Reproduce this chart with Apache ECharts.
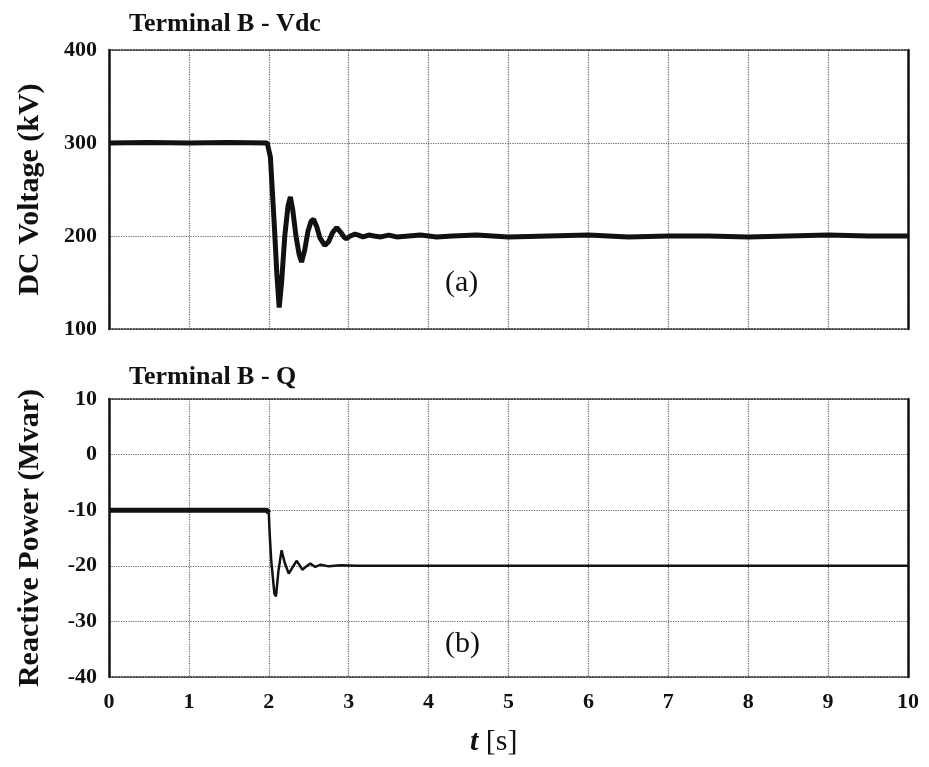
<!DOCTYPE html>
<html><head><meta charset="utf-8">
<script src="https://cdn.jsdelivr.net/npm/echarts@6/dist/echarts.min.js"></script>
<style>html,body{margin:0;padding:0;background:#fff}#c{width:929px;height:767px}</style>
</head><body><div id="c"></div>
<script>
const xTicks = [0,1,2,3,4,5,6,7,8,9,10];
const vdcTicks = [100,200,300,400];
const qTicks = [-40,-30,-20,-10,0,10];
const titleA = 'Terminal B - Vdc';
const titleB = 'Terminal B - Q';
const yNameA = 'DC Voltage (kV)';
const yNameB = 'Reactive Power (Mvar)';

// Terminal B DC voltage [t (s), kV]
const vdcT = [0,0.5,1,1.5,1.98,2.0,2.02,2.04,2.07,2.10,2.13,2.16,2.2,2.24,2.27,2.30,2.34,2.38,2.41,2.45,2.49,2.53,2.56,2.60,2.64,2.70,2.75,2.80,2.85,2.90,2.94,2.97,3.02,3.08,3.12,3.18,3.25,3.32,3.4,3.5,3.6,3.75,3.9,4.1,4.3,4.6,5,5.5,6,6.5,7,7.5,8,8.5,9,9.5,10];
const vdcV = [300,300.5,300,300.5,300,299,285,255,210,160,123,150,200,232,242,228,200,180,172,185,205,216,218,210,198,190,194,204,209,204,199,197,200,202,201,199,201,200,199,201,199,200,201,199,200,201,199,200,201,199,200,200,199,200,201,200,200];

// Terminal B reactive power [t (s), Mvar]
const qT = [0,0.5,1,1.5,1.98,2.0,2.01,2.03,2.05,2.07,2.09,2.12,2.16,2.2,2.25,2.3,2.35,2.42,2.47,2.52,2.58,2.65,2.75,2.9,3.1,3.5,4,5,6,7,8,9,10];
const qV = [-10,-10,-10,-10,-10,-10.5,-14,-19,-22,-25,-25.5,-21,-17.2,-19.5,-21.4,-20.2,-19.1,-20.7,-20.1,-19.6,-20.2,-19.8,-20.1,-19.9,-20,-20,-20,-20,-20,-20,-20,-20,-20];

const vdcData = vdcT.map((t,i)=>[t,vdcV[i]]);
const qPre = [], qPost = [];
qT.forEach((t,i)=>{ if(t<=2.0) qPre.push([t,qV[i]]); if(t>=2.0) qPost.push([t,qV[i]]); });

const FONT = '"Liberation Serif","DejaVu Serif",serif';
const chart = echarts.init(document.getElementById('c'), null, {renderer:'canvas'});

function xAx(gi, showLabels){
  return {type:'value', gridIndex:gi, min:0, max:10, interval:1,
    axisLine:{show:true,onZero:false,lineStyle:{color:'#222',width:1.5,type:'dotted'}},
    axisTick:{show:false},
    axisLabel:{show:showLabels,fontFamily:FONT,fontWeight:'bold',fontSize:22,color:'#111',margin:14},
    splitLine:{show:true,lineStyle:{color:'#666',type:'dotted',width:1.2}}};
}
function xTop(gi){
  return {type:'value', gridIndex:gi, position:'top', min:0, max:10,
    axisLine:{show:true,onZero:false,lineStyle:{color:'#222',width:1.5,type:'dotted'}},
    axisTick:{show:false},axisLabel:{show:false},splitLine:{show:false}};
}
function yAx(gi,min,max,interval,name){
  return {type:'value', gridIndex:gi, min:min, max:max, interval:interval,
    name:name, nameLocation:'middle', nameGap:64,
    nameTextStyle:{fontFamily:FONT,fontWeight:'bold',fontSize:30,color:'#111'},
    axisLine:{show:true,onZero:false,lineStyle:{color:'#111',width:2.5}},
    axisTick:{show:false},
    axisLabel:{fontFamily:FONT,fontWeight:'bold',fontSize:22,color:'#111',margin:12},
    splitLine:{show:true,lineStyle:{color:'#666',type:'dotted',width:1.2}}};
}
function yRight(gi,min,max){
  return {type:'value', gridIndex:gi, position:'right', min:min, max:max,
    axisLine:{show:true,onZero:false,lineStyle:{color:'#111',width:2.5}},
    axisTick:{show:false},axisLabel:{show:false},splitLine:{show:false}};
}

chart.setOption({
  backgroundColor:'#fff',
  animation:false,
  title:[
    {text:titleA,left:124,top:6,textStyle:{fontFamily:FONT,fontWeight:'bold',fontSize:26,color:'#111'}},
    {text:titleB,left:124,top:359,textStyle:{fontFamily:FONT,fontWeight:'bold',fontSize:26,color:'#111'}}
  ],
  grid:[
    {left:109,top:50,width:799,height:279},
    {left:109,top:399,width:799,height:278}
  ],
  xAxis:[xAx(0,false),xAx(1,true),xTop(0),xTop(1)],
  yAxis:[yAx(0,100,400,100,yNameA),yAx(1,-40,10,10,yNameB),yRight(0,100,400),yRight(1,-40,10)],
  graphic:[
    {type:'text',left:445,top:268,style:{text:'(a)',font:'30px '+FONT,fill:'#111'}},
    {type:'text',left:445,top:629,style:{text:'(b)',font:'30px '+FONT,fill:'#111'}},
    {type:'text',left:470,top:727,style:{rich:{i:{fontFamily:FONT,fontStyle:'italic',fontWeight:'bold',fontSize:30,fill:'#111'},n:{fontFamily:FONT,fontSize:30,fill:'#111'}},text:'{i|t}{n| [s]}'}}
  ],
  series:[
    {type:'line',xAxisIndex:0,yAxisIndex:0,data:vdcData,showSymbol:false,lineStyle:{color:'#111',width:5},z:5},
    {type:'line',xAxisIndex:1,yAxisIndex:1,data:qPre,showSymbol:false,lineStyle:{color:'#111',width:5},z:5},
    {type:'line',xAxisIndex:1,yAxisIndex:1,data:qPost,showSymbol:false,lineStyle:{color:'#111',width:2.5},z:5}
  ]
});
</script></body></html>
